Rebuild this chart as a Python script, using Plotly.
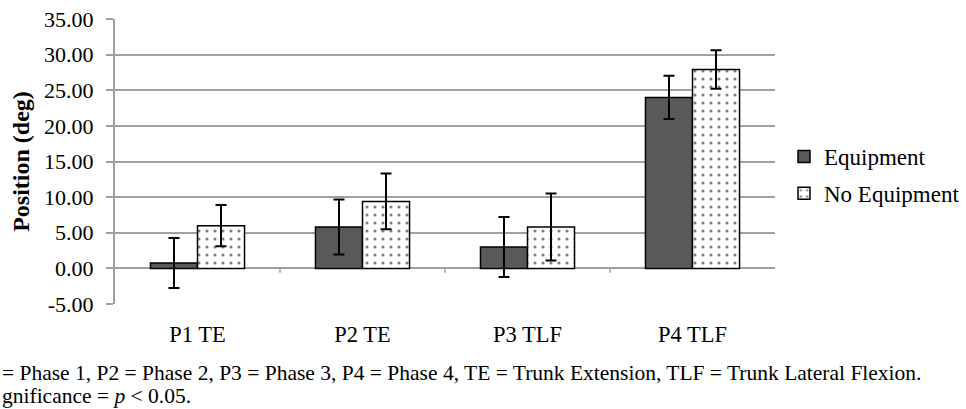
import plotly.graph_objects as go

categories = ["P1 TE", "P2 TE", "P3 TLF", "P4 TLF"]
equipment = [0.75, 5.8, 3.0, 24.0]
equipment_err = [3.5, 3.85, 4.2, 3.05]
no_equipment = [6.0, 9.4, 5.8, 27.9]
no_equipment_err = [2.9, 3.9, 4.7, 2.7]
y_tick_vals = [-5, 0, 5, 10, 15, 20, 25, 30, 35]
y_tick_labels = ["-5.00", "0.00", "5.00", "10.00", "15.00", "20.00", "25.00", "30.00", "35.00"]
footnote_1 = "= Phase 1, P2 = Phase 2, P3 = Phase 3, P4 = Phase 4, TE = Trunk Extension, TLF = Trunk Lateral Flexion."
footnote_2 = "gnificance = <i>p</i> < 0.05."

FONT = "Liberation Serif"
GRID = "#a0a0a0"

fig = go.Figure()
fig.add_trace(go.Bar(
    name="Equipment", x=categories, y=equipment,
    marker=dict(color="#595959", line=dict(color="black", width=1.5)),
    error_y=dict(type="data", array=equipment_err, color="black", thickness=2, width=5.5),
    legendgroup="a",
))
fig.add_trace(go.Bar(
    name="No Equipment", x=categories, y=no_equipment,
    marker=dict(color="white", line=dict(color="black", width=1.5),
                pattern=dict(shape=".", fgcolor="black", bgcolor="white", size=8, solidity=0.12)),
    error_y=dict(type="data", array=no_equipment_err, color="black", thickness=2, width=5.5),
    legendgroup="b",
))

# small tick marks at category boundaries on the zero line
for b in [0.5, 1.5, 2.5]:
    fig.add_shape(type="line", xref="x", yref="y", x0=b, x1=b, y0=0, y1=-0.6,
                  line=dict(color=GRID, width=1.5), layer="below")

L, R, T, B = 115, 191, 19, 105
PW = 966.0 - L - R
PH = 409.0 - T - B

def px_x(x):
    return (x - L) / PW

def px_y(y):
    return (409.0 - B - y) / PH

fig.update_layout(
    width=966, height=409,
    paper_bgcolor="white", plot_bgcolor="white",
    margin=dict(l=L, r=R, t=T, b=B, pad=0, autoexpand=False),
    barmode="group", bargap=0.43, bargroupgap=0,
    font=dict(family=FONT, size=18, color="black"),
    legend=dict(x=px_x(784), xanchor="left", y=px_y(175), yanchor="middle",
                font=dict(family=FONT, size=23), tracegroupgap=4,
                itemwidth=30, bgcolor="rgba(0,0,0,0)"),
    xaxis=dict(showgrid=False, showline=False, ticks="", ticklabelstandoff=14,
               tickfont=dict(family=FONT, size=22.5), range=[-0.5, 3.5], automargin=False),
    yaxis=dict(range=[-5, 35], tickvals=y_tick_vals, ticktext=y_tick_labels,
               showgrid=True, gridcolor=GRID, gridwidth=2,
               zeroline=True, zerolinecolor=GRID, zerolinewidth=2,
               showline=True, linecolor=GRID, linewidth=2,
               ticks="outside", ticklen=7, tickcolor=GRID, tickwidth=1.5,
               ticklabelstandoff=8, automargin=False,
               tickfont=dict(family=FONT, size=22),
               title=dict(text="<b>Position (deg)</b>", font=dict(family=FONT, size=24), standoff=8)),
    showlegend=True,
)

fig.add_annotation(xref="paper", yref="paper", x=px_x(0), y=px_y(373),
                   xanchor="left", yanchor="middle", showarrow=False,
                   text=footnote_1, font=dict(family=FONT, size=21.5))
fig.add_annotation(xref="paper", yref="paper", x=px_x(0), y=px_y(396),
                   xanchor="left", yanchor="middle", showarrow=False,
                   text=footnote_2, font=dict(family=FONT, size=21.5))

fig.write_html("out.html", config={"displayModeBar": False},
               post_script="document.body.style.margin='0';")
